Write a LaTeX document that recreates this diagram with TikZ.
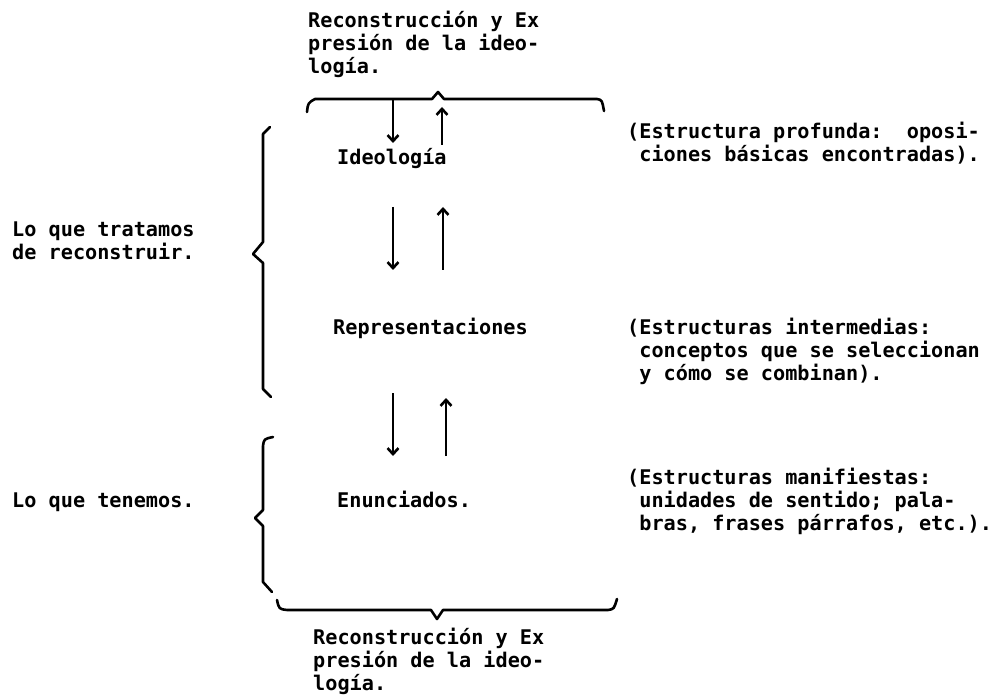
\documentclass[tikz,border=0pt]{standalone}
\usepackage{fontspec}
\newfontfamily\maquina{DejaVu Sans Mono}
\usetikzlibrary{arrows.meta,positioning}
\frenchspacing

\begin{document}
\begin{tikzpicture}[x=1pt, y=-1pt,
    texto/.style={font=\maquina\bfseries\fontsize{20.2}{23}\selectfont, inner sep=0pt, anchor=base west, align=left},
    llave/.style={line width=2.6pt, line join=round, line cap=round},
    flecha/.style={line width=2.6pt, -{Straight Barb[length=6pt,width=11pt]}}]
    \useasboundingbox (0,0) rectangle (991,695);

    % Reconstruccion (arriba y abajo)
    \node[texto] (recarriba) at (308,74) {Reconstrucción y Ex\\presión de la ideo-\\logía.};
    \node[texto] (recabajo) at (313,690) {Reconstrucción y Ex\\presión de la ideo-\\logía.};

    % Niveles
    \node[texto] (ideo) at (337,165) {Ideología};
    \node[texto] (repr) at (333,334) {Representaciones};
    \node[texto] (enun) at (337,507) {Enunciados.};

    % Estructuras
    \node[texto] (profunda) at (627,162) {(Estructura profunda:~ oposi-\\\phantom{(}ciones básicas encontradas).};
    \node[texto] (intermedia) at (627,380) {(Estructuras intermedias:\\\phantom{(}conceptos que se seleccionan\\\phantom{(}y cómo se combinan).};
    \node[texto] (manifiesta) at (627,530) {(Estructuras manifiestas:\\\phantom{(}unidades de sentido; pala-\\\phantom{(}bras, frases párrafos, etc.).};

    % Lado izquierdo
    \node[texto] (tratamos) at (12,259) {Lo que tratamos\\de reconstruir.};
    \node[texto] (tenemos) at (12,507) {Lo que tenemos.};

    % Llaves
    \draw[llave] (307,112) .. controls (308,103) .. (315,99) -- (432,99) -- (438,92) -- (444,99) -- (597,99) .. controls (602,100) .. (604,111);
    \draw[llave] (270,127) -- (263,134) -- (263,242) -- (253,254) -- (263,263) -- (263,389) -- (271,397);
    \draw[llave] (273,437) .. controls (264,439) .. (263,446) -- (263,510) -- (255,518) -- (263,526) -- (263,582) -- (272,592);
    \draw[llave] (277,600) .. controls (279,609) .. (287,610) -- (431,610) -- (437,619) -- (443,610) -- (608,610) .. controls (614,609) .. (617,599);

    % Flechas
    \coordinate (baja1) at (393,99);   \coordinate (bajafin1) at (393,143);
    \coordinate (baja2) at (393,207);  \coordinate (bajafin2) at (393,270);
    \coordinate (baja3) at (393,393);  \coordinate (bajafin3) at (393,456);
    \coordinate (sube1) at (442,145);  \coordinate (subefin1) at (442,107);
    \coordinate (sube2) at (443,270);  \coordinate (subefin2) at (443,207);
    \coordinate (sube3) at (446,456);  \coordinate (subefin3) at (446,398);
    \foreach \i in {1,2,3} {
        \draw[flecha] (baja\i) -- (bajafin\i);
        \draw[flecha] (sube\i) -- (subefin\i);
    }
\end{tikzpicture}
\end{document}
